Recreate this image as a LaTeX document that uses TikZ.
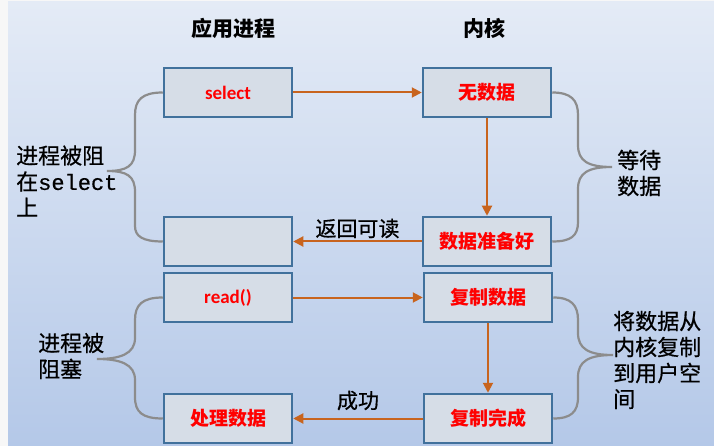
\documentclass[tikz,border=0pt]{standalone}
\usepackage{fontspec}
\setmainfont{Noto Sans CJK SC}
\newfontfamily\cjk{Noto Sans CJK SC}
\newfontfamily\cjkm[FakeBold=0.7]{Noto Sans CJK SC}
\newfontfamily\lat{Carlito}
\newfontfamily\mono[FakeBold=0.5]{Liberation Mono}
\usetikzlibrary{arrows.meta}
\definecolor{bgtop}{HTML}{E4EBF6}
\definecolor{bgbot}{HTML}{B4C8E8}
\definecolor{boxfill}{HTML}{D6DDE7}
\definecolor{boxline}{HTML}{41719C}
\definecolor{arrcol}{HTML}{C8641E}
\definecolor{bracecol}{HTML}{8C8C8C}
\definecolor{redtxt}{HTML}{FF0000}
\tikzset{
  stepbox/.style={draw=boxline, line width=2.5pt, fill=boxfill, minimum width=128pt, minimum height=49pt, inner sep=0pt, text=redtxt, font=\cjk\bfseries\fontsize{19}{22}\selectfont},
  arr/.style={draw=arrcol, line width=2pt, -{Triangle[length=10pt,width=10pt]}},
  brace/.style={draw=bracecol, line width=2.2pt},
  title/.style={font=\cjk\bfseries\fontsize{21}{24}\selectfont, inner sep=0pt},
  side/.style={font=\cjkm\fontsize{22}{26}\selectfont, align=left, inner sep=0pt, anchor=west},
  lbl/.style={font=\cjkm\fontsize{21}{24}\selectfont, inner sep=0pt}
}
\begin{document}
\begin{tikzpicture}[x=1pt,y=-1pt]
\useasboundingbox (0,0) rectangle (714,446);
\fill[white!94!gray] (0,0) rectangle (714,446);
\fill[top color=bgtop, bottom color=bgbot] (8,2) rectangle (714,446);

\node[title] (t-app) at (233,28) {应用进程};
\node[title] (t-ker) at (484,28) {内核};

\node[stepbox] (sel) at (228,92.5) {\lat\bfseries select};
\node[stepbox] (nodata) at (487,92.5) {无数据};
\node[stepbox] (emp) at (228,241.5) {};
\node[stepbox] (ready) at (487,241.5) {数据准备好};
\node[stepbox] (rd) at (228,297.5) {\lat\bfseries read()};
\node[stepbox] (cpy) at (488,297.5) {复制数据};
\node[stepbox] (proc) at (228,418.5) {处理数据};
\node[stepbox] (done) at (488,418.5) {复制完成};

\draw[arr] (sel.east) -- (nodata.west);
\draw[arr] (nodata.south) -- (ready.north);
\draw[arr] (ready.west) -- node[lbl, midway, yshift=13pt] (l-ret) {返回可读} (emp.east);
\draw[arr] (rd.east) -- (cpy.west);
\draw[arr] (cpy.south) -- (done.north);
\draw[arr] (done.west) -- node[lbl, midway, yshift=18pt] (l-ok) {成功} (proc.east);

\coordinate (t1) at (107,171);
\coordinate (t2) at (97,359);
\coordinate (t3) at (612,167);
\coordinate (t4) at (613,355);

\draw[brace] (sel.west) .. controls (142,92.5) and (135,100) .. (135,115) -- (135,150)
  .. controls (135,166) and (127,171) .. (t1)
  .. controls (127,171) and (135,176) .. (135,192) -- (135,226)
  .. controls (135,236) and (142,241.5) .. (emp.west);
\draw[brace] (rd.west) .. controls (142,297.5) and (135,305) .. (135,320) -- (135,338)
  .. controls (135,354) and (120,359) .. (t2)
  .. controls (120,359) and (135,364) .. (135,380) -- (135,397)
  .. controls (135,412) and (142,418.5) .. (proc.west);
\draw[brace] (nodata.east) .. controls (571,92.5) and (578,100) .. (578,115) -- (578,145)
  .. controls (578,161) and (588,167) .. (t3)
  .. controls (588,167) and (578,173) .. (578,189) -- (578,222)
  .. controls (578,236) and (571,241.5) .. (ready.east);
\draw[brace] (cpy.east) .. controls (571,297.5) and (578,305) .. (578,320) -- (578,333)
  .. controls (578,349) and (589,355) .. (t4)
  .. controls (589,355) and (578,361) .. (578,377) -- (578,397)
  .. controls (578,412) and (571,418.5) .. (done.east);

\node[side] (s1) at (16,181) {进程被阻\\在{\mono select}\\上};
\node[side] (s2) at (38,356) {进程被\\阻塞};
\node[side] (s3) at (617,173) {等待\\数据};
\node[side] (s4) at (613,360) {将数据从\\内核复制\\到用户空\\间};
\end{tikzpicture}
\end{document}
